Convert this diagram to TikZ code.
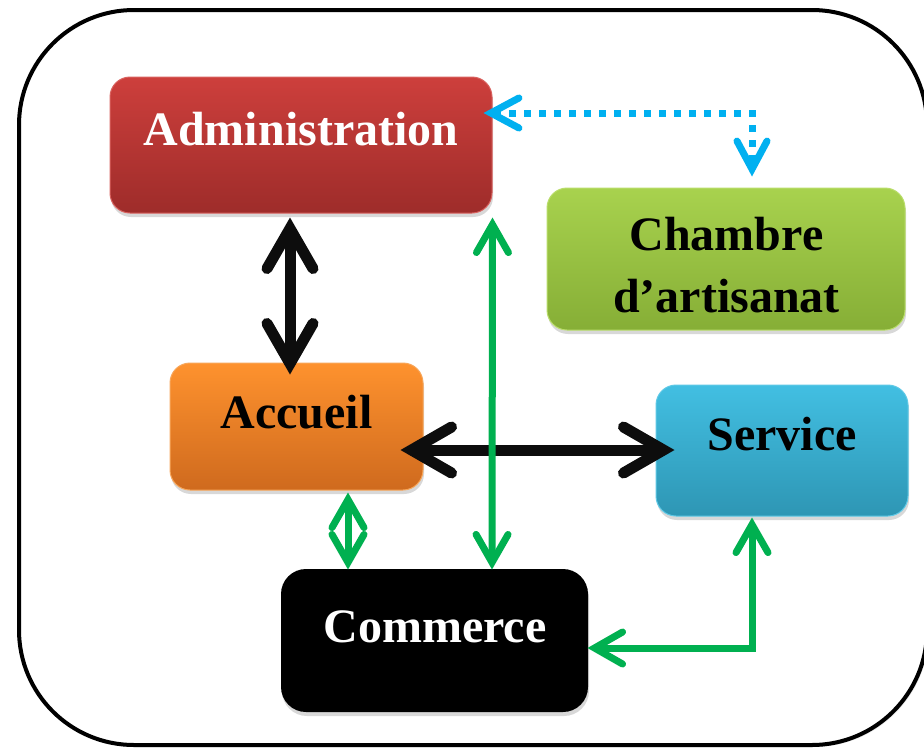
\documentclass[tikz,border=0pt]{standalone}
\usepackage{fontspec}
\setmainfont{Liberation Serif}
\usetikzlibrary{arrows.meta,shadows}
\definecolor{admTop}{HTML}{CD3F3C}
\definecolor{admBot}{HTML}{9E2C2A}
\definecolor{admLine}{HTML}{D9625F}
\definecolor{chTop}{HTML}{A8D24E}
\definecolor{chBot}{HTML}{86AE36}
\definecolor{chLine}{HTML}{B9DD6A}
\definecolor{acTop}{HTML}{FE922E}
\definecolor{acBot}{HTML}{CF6A1E}
\definecolor{acLine}{HTML}{F7A65A}
\definecolor{svTop}{HTML}{42BFE2}
\definecolor{svBot}{HTML}{2E96B4}
\definecolor{svLine}{HTML}{5FC9E6}
\definecolor{grn}{HTML}{00B050}
\definecolor{blu}{HTML}{00B0F0}
\definecolor{blk}{HTML}{0D0D0D}
\begin{document}
\begin{tikzpicture}[x=1pt,y=-1pt,
  box/.style={rounded corners=20pt, inner sep=0pt, line width=1pt,
    drop shadow={opacity=0.3, shadow xshift=1pt, shadow yshift=-4pt}},
  lbl/.style={font=\fontsize{48}{60}\selectfont\bfseries, anchor=base, inner sep=0pt},
  blkarrow/.style={line width=11pt, draw=blk,
    {Straight Barb[length=40pt,width=46pt,line cap=round,line join=miter]}-{Straight Barb[length=40pt,width=46pt,line cap=round,line join=miter]}},
  grnarrow/.style={line width=7pt, draw=grn,
    {Straight Barb[length=28pt,width=32pt,line cap=round,line join=miter]}-{Straight Barb[length=28pt,width=32pt,line cap=round,line join=miter]}},
  bluarrow/.style={line width=7pt, draw=blu, dash pattern=on 7pt off 8pt,
    {Straight Barb[length=28pt,width=30pt,line cap=round,line join=miter]}-{Straight Barb[length=28pt,width=30pt,line cap=round,line join=miter]}}
]
\useasboundingbox (0,0) rectangle (924,748);
% outer frame
\draw[line width=4pt, fill=white, rounded corners=115pt,
  drop shadow={opacity=0.2, shadow xshift=2pt, shadow yshift=-2pt}] (19,10) rectangle (927,745);

% boxes
\node[box, draw=admLine, top color=admTop, bottom color=admBot,
  minimum width=382pt, minimum height=136pt] (admin) at (301,145) {};
\node[box, draw=chLine, top color=chTop, bottom color=chBot,
  minimum width=358pt, minimum height=142pt] (chambre) at (726,259) {};
\node[box, draw=acLine, top color=acTop, bottom color=acBot,
  minimum width=253pt, minimum height=127pt] (accueil) at (296.5,426.5) {};
\node[box, draw=svLine, top color=svTop, bottom color=svBot,
  minimum width=252pt, minimum height=131pt] (service) at (782,450.5) {};
\node[box, fill=black, rounded corners=25pt,
  minimum width=307pt, minimum height=143pt] (commerce) at (434.5,640.5) {};

% labels
\node[lbl, text=white] (tadmin) at (301,145) {Administration};
\node[lbl] (tchambre1) at (726.5,250) {Chambre};
\node[lbl] (tchambre2) at (726.5,312) {d’artisanat};
\node[lbl] (taccueil) at (296.5,428) {Accueil};
\node[lbl] (tservice) at (782,450) {Service};
\node[lbl, text=white] (tcommerce) at (435,642) {Commerce};

% connectors
\draw[blkarrow] ([shift={(-11,4)}]admin.south) -- ([shift={(-6.5,12)}]accueil.north);
\draw[blkarrow] ([shift={(-23,23.5)}]accueil.east) -- ([shift={(19,-0.5)}]service.west);
\draw[grnarrow] ([shift={(0,4)}]admin.south east) -- ([shift={(57.5,1)}]commerce.north);
\draw[grnarrow] ([shift={(51.5,2)}]accueil.south) -- ([shift={(-86.5,1)}]commerce.north);
\draw[grnarrow] ([shift={(-30,1)}]service.south) |- ([shift={(-1,7.5)}]commerce.east);
\draw[bluarrow] ([shift={(-9,-32)}]admin.east) -| ([shift={(26,-11)}]chambre.north);
\end{tikzpicture}
\end{document}
